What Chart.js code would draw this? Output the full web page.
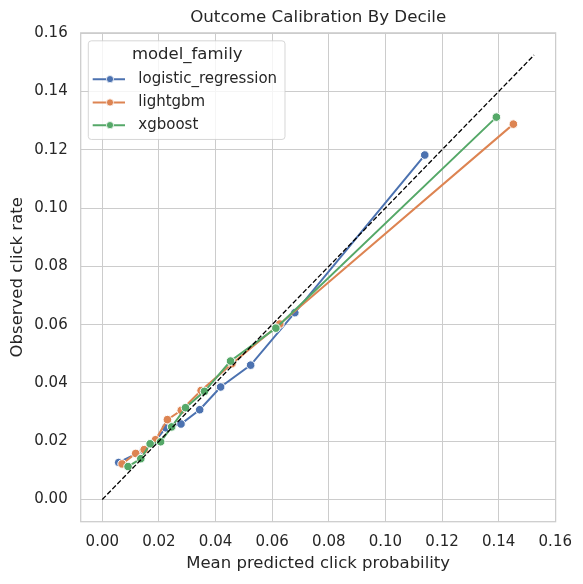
<!DOCTYPE html>
<html>
<head>
<meta charset="utf-8">
<script src="https://cdn.jsdelivr.net/npm/chart.js@4.4.0/dist/chart.umd.min.js"></script>
<style>
    body { margin: 0; background: #fff; }
    canvas { display: block; }
</style>
</head>
<body>
<canvas id="calibChart" width="583" height="584"></canvas>
<script>
// data (mean predicted vs observed, per decile)
let seriesNames = ["logistic_regression", "lightgbm", "xgboost"];
let seriesColors = ["#4c72b0", "#dd8452", "#55a868"];

let logisticX = [0.0058, 0.0145, 0.0186, 0.0224, 0.0278, 0.0344, 0.0418, 0.0524, 0.0680, 0.1139];
let logisticY = [0.0127, 0.0168, 0.0200, 0.0246, 0.0259, 0.0308, 0.0386, 0.0461, 0.0641, 0.1182];

let lightgbmX = [0.0070, 0.0118, 0.0148, 0.0188, 0.0230, 0.0279, 0.0349, 0.0458, 0.0627, 0.1452];
let lightgbmY = [0.0122, 0.0158, 0.0171, 0.0205, 0.0274, 0.0306, 0.0374, 0.0466, 0.0602, 0.1288];

let xgboostX = [0.0091, 0.0136, 0.0169, 0.0206, 0.0245, 0.0294, 0.0361, 0.0453, 0.0613, 0.1392];
let xgboostY = [0.0113, 0.0140, 0.0191, 0.0198, 0.0249, 0.0315, 0.0371, 0.0475, 0.0588, 0.1312];

let diagonal = [0, 0.1525];
let axisMin = -0.007625;
let axisMax = 0.160125;

const FONT = "'DejaVu Sans', sans-serif";
const TEXT = "#262626";
const GRID = "#cccccc";

function toPoints(xs, ys) {
    return xs.map((x, i) => ({ x: x, y: ys[i] }));
}

function seriesDataset(idx, xs, ys, order) {
    return {
        label: seriesNames[idx],
        data: toPoints(xs, ys),
        borderColor: seriesColors[idx],
        backgroundColor: seriesColors[idx],
        borderWidth: 2,
        pointRadius: 4.3,
        pointHoverRadius: 4.3,
        pointBorderColor: "#ffffff",
        pointBorderWidth: 1,
        pointBackgroundColor: seriesColors[idx],
        showLine: true,
        order: order
    };
}

// frame round the plot area, like the seaborn whitegrid spines
let framePlugin = {
    id: "frame",
    afterDraw(chart) {
        let a = chart.chartArea, c = chart.ctx;
        c.save();
        c.strokeStyle = GRID;
        c.lineWidth = 1.25;
        c.strokeRect(a.left, a.top, a.right - a.left, a.bottom - a.top);
        c.restore();
    }
};

// legend drawn inside the axes (upper left)
let legendPlugin = {
    id: "innerLegend",
    afterDatasetsDraw(chart) {
        let c = chart.ctx;
        let a = chart.chartArea;
        let x0 = a.left + 7.6, y0 = a.top + 8, w = 196.7, h = 98.6, r = 3;
        c.save();
        c.beginPath();
        c.roundRect(x0, y0, w, h, r);
        c.fillStyle = "rgba(255,255,255,0.8)";
        c.fill();
        c.strokeStyle = "rgba(204,204,204,0.8)";
        c.lineWidth = 1;
        c.stroke();

        c.fillStyle = TEXT;
        c.textBaseline = "middle";
        c.textAlign = "center";
        c.font = "16.5px " + FONT;
        c.fillText("model_family", x0 + 98.9, y0 + 14.3);

        c.textAlign = "left";
        c.font = "15px " + FONT;
        let rows = [y0 + 38.3, y0 + 61.6, y0 + 84.3];
        seriesNames.forEach((name, i) => {
            let yy = rows[i];
            c.strokeStyle = seriesColors[i];
            c.lineWidth = 2;
            c.beginPath();
            c.moveTo(x0 + 4.4, yy);
            c.lineTo(x0 + 36.7, yy);
            c.stroke();
            c.beginPath();
            c.arc(x0 + 21.7, yy, 3.6, 0, Math.PI * 2);
            c.fillStyle = seriesColors[i];
            c.fill();
            c.strokeStyle = "#ffffff";
            c.lineWidth = 0.8;
            c.stroke();
            c.fillStyle = TEXT;
            c.fillText(name, x0 + 50, yy);
        });
        c.restore();
    }
};

let ctxC = document.getElementById("calibChart").getContext("2d");

let calibChart = new Chart(ctxC, {
    type: "scatter",
    data: {
        datasets: [
            {
                label: "perfect",
                data: toPoints(diagonal, diagonal),
                borderColor: "#000000",
                borderWidth: 1.3,
                borderDash: [5, 2.2],
                pointRadius: 0,
                pointHoverRadius: 0,
                showLine: true,
                order: 0
            },
            seriesDataset(0, logisticX, logisticY, 3),
            seriesDataset(1, lightgbmX, lightgbmY, 2),
            seriesDataset(2, xgboostX, xgboostY, 1)
        ]
    },
    options: {
        responsive: false,
        animation: false,
        layout: { padding: { left: 0, right: 25.7, top: 0, bottom: 0 } },
        plugins: {
            legend: { display: false },
            tooltip: { enabled: false },
            title: {
                display: true,
                fullSize: false,
                text: "Outcome Calibration By Decile",
                color: TEXT,
                font: { family: FONT, size: 16.7, weight: "normal" },
                padding: { top: 8, bottom: 4.8 }
            }
        },
        scales: {
            x: {
                type: "linear",
                min: axisMin,
                max: axisMax,
                afterFit(scale) { scale.height = 62.3; },
                grid: { color: GRID, lineWidth: 1, drawTicks: false },
                border: { display: false },
                ticks: {
                    stepSize: 0.02,
                    includeBounds: false,
                    padding: 11,
                    color: TEXT,
                    font: { family: FONT, size: 15 },
                    maxRotation: 0,
                    callback: v => v.toFixed(2)
                },
                title: {
                    display: true,
                    text: "Mean predicted click probability",
                    color: TEXT,
                    font: { family: FONT, size: 16.5 },
                    padding: { top: 0, bottom: 10.8 }
                }
            },
            y: {
                type: "linear",
                min: axisMin,
                max: axisMax,
                afterFit(scale) { scale.width = 80.7; },
                grid: { color: GRID, lineWidth: 1, drawTicks: false },
                border: { display: false },
                ticks: {
                    stepSize: 0.02,
                    includeBounds: false,
                    padding: 13,
                    color: TEXT,
                    font: { family: FONT, size: 15 },
                    callback: v => v.toFixed(2)
                },
                title: {
                    display: true,
                    text: "Observed click rate",
                    color: TEXT,
                    font: { family: FONT, size: 16.5 },
                    padding: { top: 8, bottom: 0 }
                }
            }
        }
    },
    plugins: [legendPlugin, framePlugin]
});
</script>
</body>
</html>
